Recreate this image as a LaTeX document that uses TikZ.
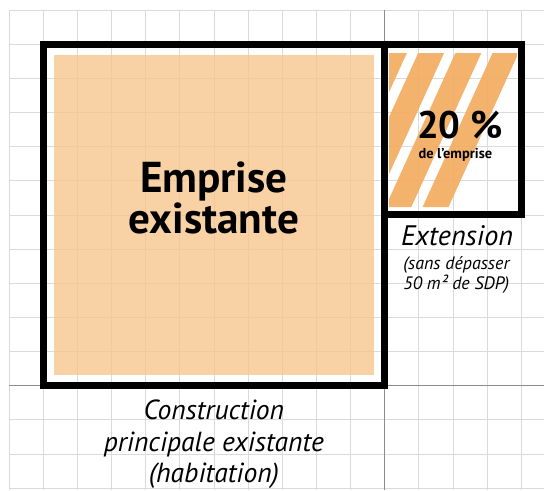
\documentclass[tikz,border=0pt]{standalone}
\usepackage{fontspec}
\setmainfont{PT Sans}
\usepackage{xcolor}
\usetikzlibrary{positioning}

\definecolor{empriseor}{RGB}{246,199,143}
\definecolor{stripeor}{RGB}{243,172,96}
\definecolor{gridgray}{RGB}{218,218,218}
\definecolor{axisgray}{RGB}{140,140,140}

\begin{document}
\begin{tikzpicture}[x=1cm,y=-1cm,
    gridline/.style={gridgray,line width=0.6pt},
    axisline/.style={axisgray,line width=0.7pt},
    wall/.style={line width=5.8pt,line join=miter},
    caption/.style={font=\itshape,align=center,inner sep=0pt}]

    \useasboundingbox (-0.264,-0.293) rectangle (15.666,14.056);

    % Background grid
    \foreach \i in {0,...,15}
        \draw[gridline] (\i,0) -- (\i,14.056);
    \foreach \j in {0,...,14}
        \draw[gridline] (0,\j) -- (15.666,\j);
    \draw[axisline] (11,0) -- (11,14.056);
    \draw[axisline] (0,11) -- (15.666,11);

    % Existing footprint
    \fill[empriseor,fill opacity=0.8] (1.32,1.32) rectangle (10.68,10.68);

    % Hatched extension
    \begin{scope}
        \clip (11.13,1.26) rectangle (14.875,5.77);
        \foreach \k in {-2,...,2}
            \fill[stripeor,fill opacity=0.92] ({11.98+1.09*\k},1.26) -- ++(0.76,0)
                -- ({11.98+1.09*\k+0.76-2.05},5.77) -- ++(-0.76,0) -- cycle;
    \end{scope}

    % Walls
    \draw[wall] (1,1) rectangle (11,11);
    \draw[wall] (11,1) rectangle (15,6);

    % Labels
    \node[font=\bfseries\fontsize{36}{34}\selectfont,align=center,inner sep=0pt]
        (emprise) at (6,5.5) {Emprise\\existante};
    \node[font=\bfseries\fontsize{32}{34}\selectfont,inner sep=0pt]
        (taux) at (13.2,3.36) {20 \%};
    \node[font=\bfseries\fontsize{12}{14}\selectfont,inner sep=0pt]
        (tauxnote) at (13.07,4.24) {de l’emprise};
    \node[caption,font=\itshape\fontsize{23.5}{26}\selectfont]
        (extension) at (13.12,6.62) {Extension};
    \node[caption,font=\itshape\fontsize{15}{17}\selectfont]
        (extnote) at (13.1,7.76) {(sans dépasser\\50 m² de SDP)};
    \node[caption,font=\itshape\fontsize{23}{26.5}\selectfont]
        (construction) at (6,12.72) {Construction\\principale existante\\(habitation)};
\end{tikzpicture}
\end{document}
